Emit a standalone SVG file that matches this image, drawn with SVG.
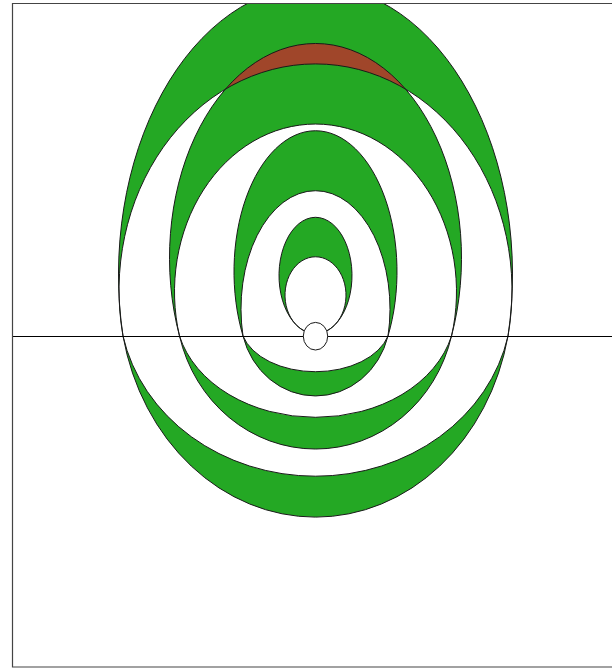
<svg xmlns="http://www.w3.org/2000/svg" width="612" height="669" viewBox="0 0 612 669">
  <style>
    .band { fill: #24a824; stroke: none; }
    .edge { fill: none; stroke: #1a1a1a; stroke-width: 1; }
    .frame { stroke: #444; stroke-width: 1.2; fill: none; }
    .axis { stroke: #000; stroke-width: 1; fill: none; }
  </style>
  <defs>
    <clipPath id="page"><rect x="12.5" y="4" width="600" height="663"/></clipPath>
    <clipPath id="cU1"><path d="M123,336 A197,289 0 1 1 508,336 A196.5,226.6 0 1 0 123,336 Z"/></clipPath>
  </defs>
  <rect x="0" y="0" width="612" height="669" fill="#fff"/>
  <g id="rings" clip-path="url(#page)">
    <g id="fills">
      <path id="U1" class="band" d="M123,336 A197,289 0 1 1 508,336 A196.5,226.6 0 1 0 123,336 Z"/>
      <path id="U2" class="band" d="M179.5,336 A146,214.5 0 1 1 451.5,336 A141,167.7 0 1 0 179.5,336 Z"/>
      <path id="overlap" fill="#a0462a" clip-path="url(#cU1)" d="M179.5,336 A146,214.5 0 1 1 451.5,336 A141,167.7 0 1 0 179.5,336 Z"/>
      <path id="U3" class="band" d="M243,336 A81.5,140.9 0 1 1 388,336 A74.5,118.1 0 1 0 243,336 Z"/>
      <path id="U4" class="band" d="M304.5,331 A36.5,58.2 0 1 1 326.5,331 A30.5,38.4 0 1 0 304.5,331 Z"/>
      <path id="L1" class="band" d="M388,336 A75,80.6 0 0 1 243,336 A75,48 0 0 0 388,336 Z"/>
      <path id="L2" class="band" d="M451.5,336 A140,148.2 0 0 1 179.5,336 A140,106.6 0 0 0 451.5,336 Z"/>
      <path id="L3" class="band" d="M508,336 A196.5,226.6 0 0 1 123,336 A196.5,175.4 0 0 0 508,336 Z"/>
    </g>
    <g id="outlines">
      <path class="edge" d="M123,336 A197,289 0 1 1 508,336 A196.5,226.6 0 1 0 123,336 Z"/>
      <path class="edge" d="M179.5,336 A146,214.5 0 1 1 451.5,336 A141,167.7 0 1 0 179.5,336 Z"/>
      <path class="edge" d="M243,336 A81.5,140.9 0 1 1 388,336 A74.5,118.1 0 1 0 243,336 Z"/>
      <path class="edge" d="M304.5,331 A36.5,58.2 0 1 1 326.5,331 A30.5,38.4 0 1 0 304.5,331 Z"/>
      <path class="edge" d="M388,336 A75,80.6 0 0 1 243,336 A75,48 0 0 0 388,336 Z"/>
      <path class="edge" d="M451.5,336 A140,148.2 0 0 1 179.5,336 A140,106.6 0 0 0 451.5,336 Z"/>
      <path class="edge" d="M508,336 A196.5,226.6 0 0 1 123,336 A196.5,175.4 0 0 0 508,336 Z"/>
    </g>
  </g>
  <g id="axis">
    <line class="axis" x1="12.5" y1="336.5" x2="612" y2="336.5"/>
    <line class="axis" x1="123" y1="336.5" x2="179.5" y2="336.5" stroke-width="2"/>
    <line class="axis" x1="451.5" y1="336.5" x2="508" y2="336.5" stroke-width="2"/>
  </g>
  <g id="source">
    <ellipse cx="315.5" cy="336.2" rx="12.2" ry="13.8" fill="#fff" stroke="#1a1a1a" stroke-width="1"/>
  </g>
  <g id="border">
    <path class="frame" d="M612,3.5 H12.5 V667 H612"/>
  </g>
</svg>
